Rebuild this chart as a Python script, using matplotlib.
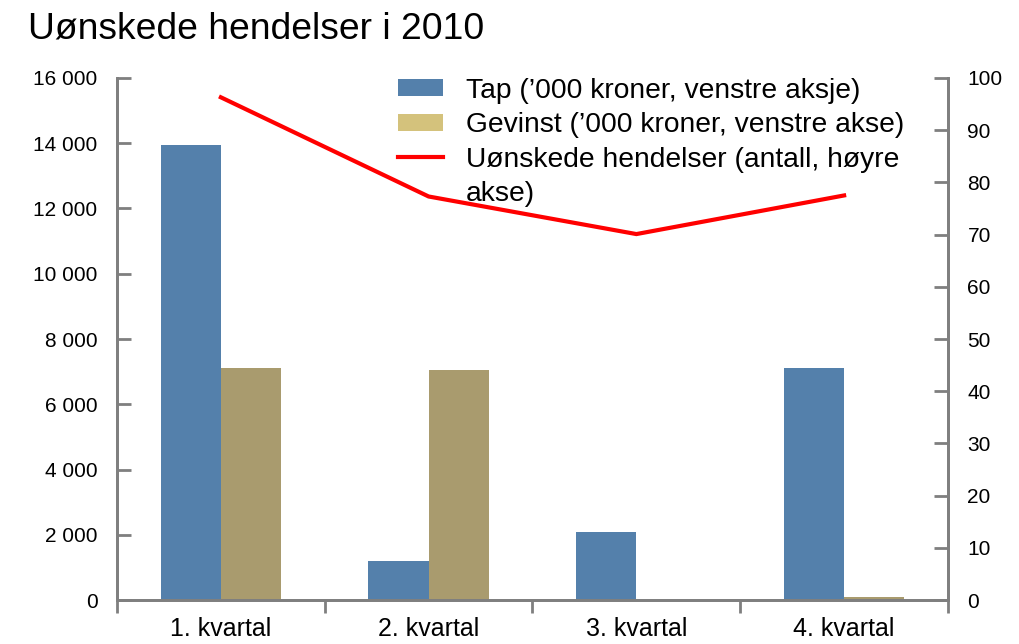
import matplotlib
matplotlib.use("Agg")
import matplotlib.pyplot as plt
import numpy as np
from matplotlib.lines import Line2D
from matplotlib.patches import Patch

categories = ["1. kvartal", "2. kvartal", "3. kvartal", "4. kvartal"]
tap = [13950, 1200, 2080, 7110]
gevinst = [7110, 7050, 0, 100]
hendelser = [96.3, 77.3, 70.1, 77.5]

BLUE = "#5480ab"
TAN = "#a99b6e"
TAN_LEGEND = "#d4c27c"
RED = "#ff0000"
GREY = "#7f7f7f"

plt.rcParams["font.family"] = ["Liberation Sans", "DejaVu Sans"]

fig = plt.figure(figsize=(10.2, 6.44), dpi=100)
ax = fig.add_axes([0.1147, 0.0683, 0.8147, 0.8106])
ax2 = ax.twinx()

x = np.arange(len(categories))
w = 0.29
ax.bar(x - w / 2, tap, width=w, color=BLUE, zorder=2)
ax.bar(x + w / 2, gevinst, width=w, color=TAN, zorder=2)
ax2.plot(x, hendelser, color=RED, lw=3, solid_joinstyle="miter")

ax.set_xlim(-0.5, len(categories) - 0.5)
ax.set_ylim(0, 16000)
ax2.set_ylim(0, 100)

yt = np.arange(0, 16001, 2000)
ax.set_yticks(yt)
ax.set_yticklabels([f"{v:,}".replace(",", " ") for v in yt], fontsize=15)
ax2.set_yticks(np.arange(0, 101, 10))
ax2.tick_params(axis="y", labelsize=15)

ax.set_xticks(np.arange(-0.5, len(categories), 1.0))
ax.set_xticklabels([])
ax.set_xticks(x, minor=True)
ax.set_xticklabels(categories, minor=True, fontsize=18,
                   family=["Liberation Sans Narrow", "Liberation Sans"])
ax.tick_params(axis="x", which="major", direction="out", length=9, width=2, color=GREY)
ax.tick_params(axis="x", which="minor", length=0, pad=12)
ax.tick_params(axis="y", direction="in", length=10, width=2, color=GREY, pad=14)
ax2.tick_params(axis="y", direction="in", length=10, width=2, color=GREY, pad=14)

for a in (ax, ax2):
    a.spines["top"].set_visible(False)
    for s in ("left", "right", "bottom"):
        a.spines[s].set_color(GREY)
        a.spines[s].set_linewidth(2)

# legend: last row is the wrapped tail of the line label, no handle
handles = [
    Patch(facecolor=BLUE, edgecolor="none"),
    Patch(facecolor=TAN_LEGEND, edgecolor="none"),
    Line2D([0], [0], color=RED, lw=3),
    Patch(facecolor="none", edgecolor="none"),
]
labels = [
    "Tap (\u2019000 kroner, venstre aksje)",
    "Gevinst (\u2019000 kroner, venstre akse)",
    "U\u00f8nskede hendelser (antall, h\u00f8yre",
    "akse)",
]
ax2.legend(handles, labels, loc="upper left", bbox_to_anchor=(0.325, 1.022),
           frameon=False, fontsize=20.3, handlelength=1.6, handleheight=0.55,
           labelspacing=0.3, handletextpad=0.8, borderaxespad=0)

fig.text(0.027, 0.955, "U\u00f8nskede hendelser i 2010", fontsize=26.8, va="center", ha="left")

fig.savefig("out.png", dpi=100)
